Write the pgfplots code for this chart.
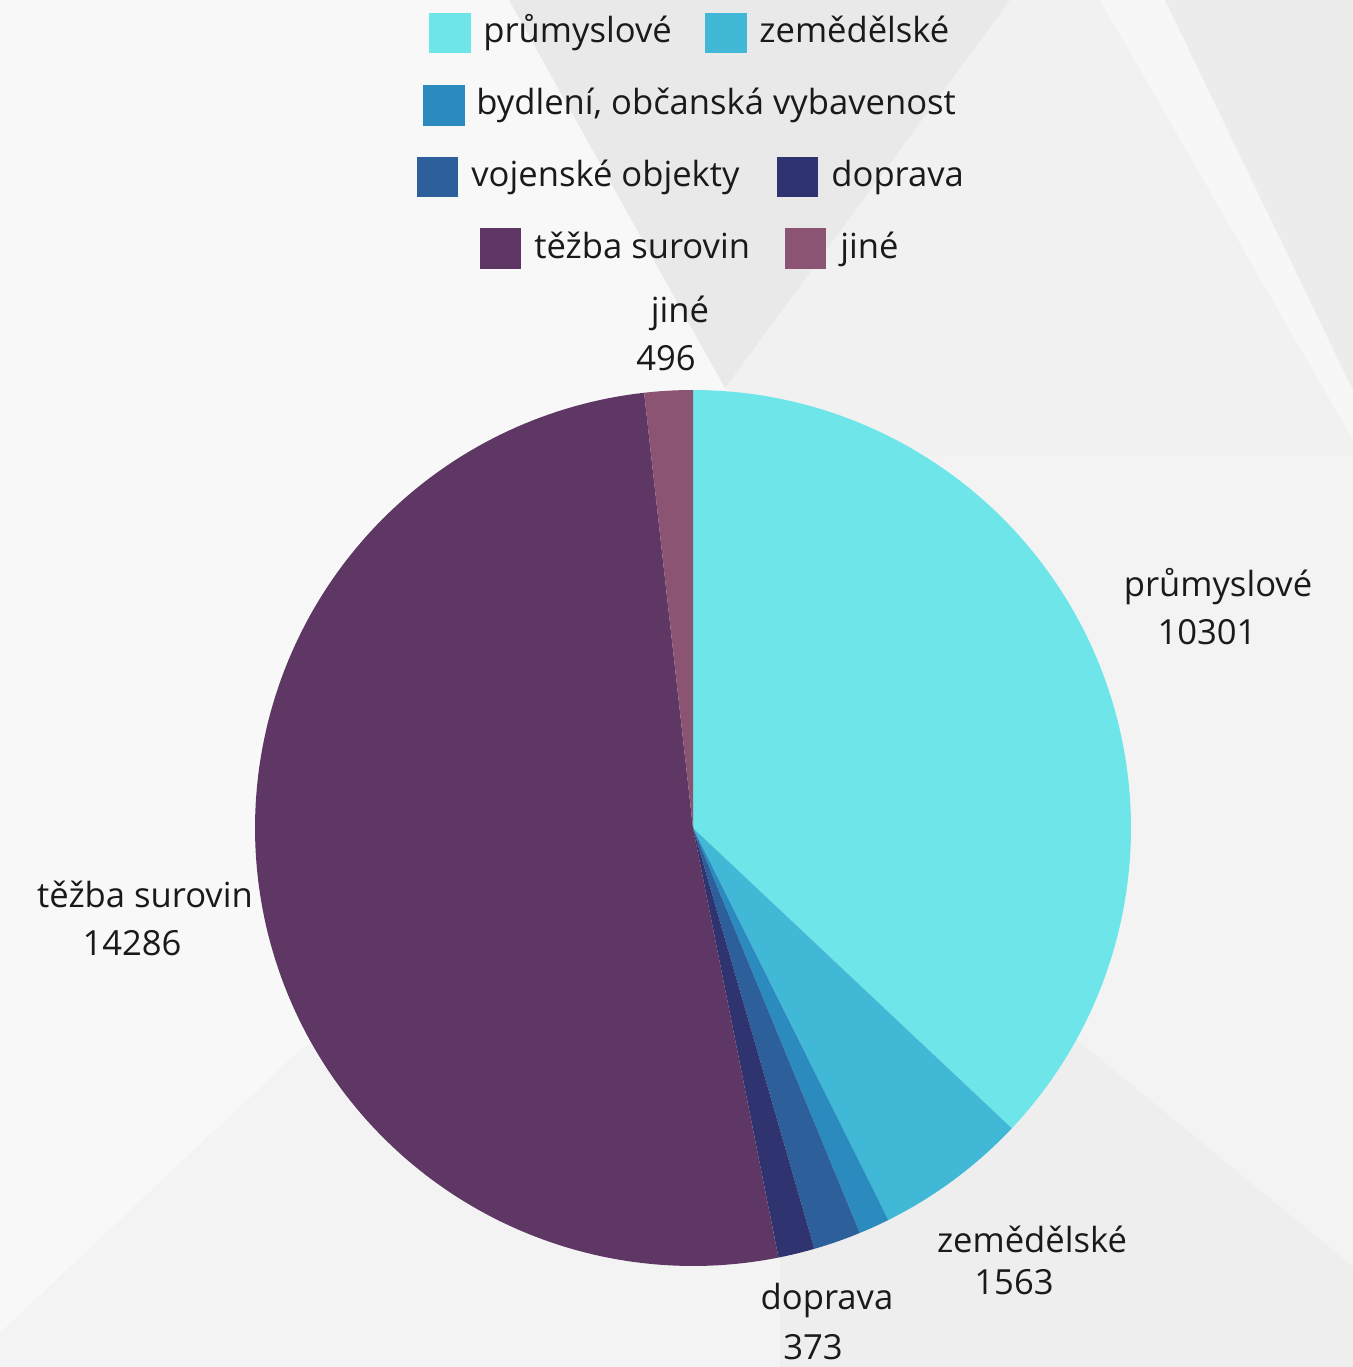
\documentclass[border=0pt]{standalone}
\usepackage{pgfplots}
\pgfplotsset{compat=1.18}
\usepackage{pgfplotstable}
\usepackage{fontspec}
\setmainfont{Open Sans}

\definecolor{cPrum}{HTML}{6EE6E9}
\definecolor{cZem}{HTML}{41B8D6}
\definecolor{cByd}{HTML}{2B8BBE}
\definecolor{cVoj}{HTML}{2D5F9B}
\definecolor{cDop}{HTML}{2F3370}
\definecolor{cTez}{HTML}{5E3765}
\definecolor{cJin}{HTML}{8A5472}
\definecolor{txt}{HTML}{1A1A1A}
\definecolor{bgA}{HTML}{F8F8F8}
\definecolor{bgV}{HTML}{E9E9E9}
\definecolor{bgR}{HTML}{F1F1F1}
\definecolor{bgC}{HTML}{ECECEC}
\definecolor{bgS}{HTML}{F7F7F7}
\definecolor{bgL}{HTML}{F3F3F3}
\definecolor{bgD}{HTML}{EEEEEE}

\pgfplotstableread{
name value
prumyslove 10301
zemedelske 1563
bydleni 317
vojenske 487
doprava 373
tezba 14286
jine 496
}\piedata

\pgfplotstablegetelem{0}{value}\of\piedata \edef\vA{\pgfplotsretval}
\pgfplotstablegetelem{1}{value}\of\piedata \edef\vB{\pgfplotsretval}
\pgfplotstablegetelem{2}{value}\of\piedata \edef\vC{\pgfplotsretval}
\pgfplotstablegetelem{3}{value}\of\piedata \edef\vD{\pgfplotsretval}
\pgfplotstablegetelem{4}{value}\of\piedata \edef\vE{\pgfplotsretval}
\pgfplotstablegetelem{5}{value}\of\piedata \edef\vF{\pgfplotsretval}
\pgfplotstablegetelem{6}{value}\of\piedata \edef\vG{\pgfplotsretval}
\pgfmathsetmacro\total{\vA/100+\vB/100+\vC/100+\vD/100+\vE/100+\vF/100+\vG/100}
\pgfmathsetmacro\aA{90}
\pgfmathsetmacro\aB{\aA-(\vA/100)/\total*360}
\pgfmathsetmacro\aC{\aB-(\vB/100)/\total*360}
\pgfmathsetmacro\aD{\aC-(\vC/100)/\total*360}
\pgfmathsetmacro\aE{\aD-(\vD/100)/\total*360}
\pgfmathsetmacro\aF{\aE-(\vE/100)/\total*360}
\pgfmathsetmacro\aG{\aF-(\vF/100)/\total*360}
\pgfmathsetmacro\aH{-270}

\tikzset{lbl/.style={font=\fontsize{17.3}{20}\selectfont, text=txt, inner sep=0pt, anchor=base},
         leg/.style={font=\fontsize{17.3}{20}\selectfont, text=txt, inner sep=0pt, anchor=base west}}

\begin{document}
\begin{tikzpicture}
\begin{axis}[
  width=676.5pt, height=683.5pt, scale only axis,
  xmin=0, xmax=1353, ymin=0, ymax=1367,
  hide axis, clip=false,
]
% background (pixel coordinates, y measured from the bottom)
\fill[bgA] (0,0) rectangle (1353,1367);
% lower-right half, slightly darker
\fill[bgL] (0,34) -- (300,317) -- (693,539) -- (800,912) -- (1353,912) -- (1353,0) -- (0,0) -- cycle;
% right area beside the V
\fill[bgR] (1010,1367) -- (1353,1367) -- (1353,912) -- (800,912) -- (725,979) -- cycle;
% lighter stripe and top-right corner
\fill[bgS] (1100,1367) -- (1165,1367) -- (1353,977) -- (1353,927) -- cycle;
\fill[bgC] (1165,1367) -- (1353,1367) -- (1353,977) -- cycle;
% central V
\fill[bgV] (509,1367) -- (1010,1367) -- (725,979) -- cycle;
% bottom-right darker region
\fill[bgD] (1077,327) -- (1353,100) -- (1353,0) -- (780,0) -- (780,227) -- cycle;

% pie slices
\addplot[fill=cPrum, draw=none, domain=\aB:\aA, samples=120] ({693+438*cos(x)},{539+438*sin(x)}) -- (axis cs:693,539) -- cycle;
\addplot[fill=cZem, draw=none, domain=\aC:\aB, samples=30] ({693+438*cos(x)},{539+438*sin(x)}) -- (axis cs:693,539) -- cycle;
\addplot[fill=cByd, draw=none, domain=\aD:\aC, samples=10] ({693+438*cos(x)},{539+438*sin(x)}) -- (axis cs:693,539) -- cycle;
\addplot[fill=cVoj, draw=none, domain=\aE:\aD, samples=10] ({693+438*cos(x)},{539+438*sin(x)}) -- (axis cs:693,539) -- cycle;
\addplot[fill=cDop, draw=none, domain=\aF:\aE, samples=10] ({693+438*cos(x)},{539+438*sin(x)}) -- (axis cs:693,539) -- cycle;
\addplot[fill=cTez, draw=none, domain=\aG:\aF, samples=160] ({693+438*cos(x)},{539+438*sin(x)}) -- (axis cs:693,539) -- cycle;
\addplot[fill=cJin, draw=none, domain=\aH:\aG, samples=10] ({693+438*cos(x)},{539+438*sin(x)}) -- (axis cs:693,539) -- cycle;

% legend
\fill[cPrum] (429,1314) rectangle (471,1354);
\node[leg] at (483,1324) {průmyslové};
\fill[cZem] (705,1314) rectangle (747,1354);
\node[leg] at (759,1324) {zemědělské};
\fill[cByd] (423,1241) rectangle (465,1282);
\node[leg] at (476,1252) {bydlení, občanská vybavenost};
\fill[cVoj] (417,1170) rectangle (458,1210);
\node[leg] at (471,1180) {vojenské objekty};
\fill[cDop] (777,1170) rectangle (818,1210);
\node[leg] at (831,1180) {doprava};
\fill[cTez] (480,1098) rectangle (521,1139);
\node[leg] at (534,1108) {těžba surovin};
\fill[cJin] (785,1098) rectangle (826,1139);
\node[leg] at (840,1108) {jiné};

% data labels
\node[lbl] at (1218,770) {průmyslové};
\node[lbl] at (1207,722) {10301};
\node[lbl] at (145,459) {těžba surovin};
\node[lbl] at (132,411) {14286};
\node[lbl] at (1032,114) {zemědělské};
\node[lbl] at (1014,72) {1563};
\node[lbl] at (827,57) {doprava};
\node[lbl] at (813,8) {373};
\node[lbl] at (680,1044) {jiné};
\node[lbl] at (666,996) {496};
\end{axis}
\end{tikzpicture}
\end{document}
